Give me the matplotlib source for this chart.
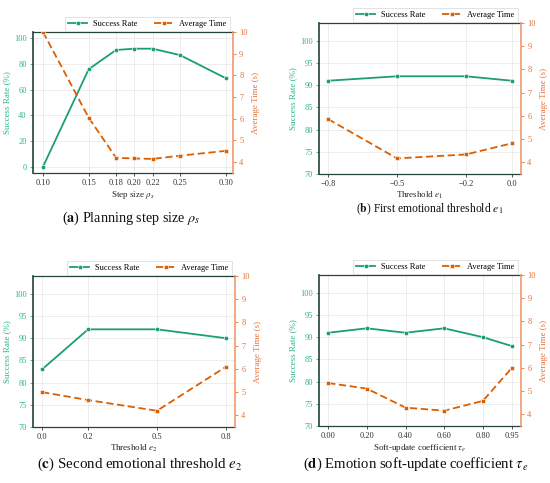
import matplotlib
matplotlib.use("Agg")
import matplotlib.pyplot as plt

plt.rcParams['font.family'] = ['Liberation Serif', 'DejaVu Serif']
plt.rcParams['mathtext.fontset'] = 'stix'

# ---- data ----
step_sizes = [0.10, 0.15, 0.18, 0.20, 0.22, 0.25, 0.30]
step_success = [0, 76, 91, 92, 92, 87, 69]
step_time = [10.0, 6.05, 4.2, 4.17, 4.15, 4.3, 4.52]
step_ticklabels = ["0.10", "0.15", "0.18", "0.20", "0.22", "0.25", "0.30"]

e1_vals = [-0.8, -0.5, -0.2, 0.0]
e1_success = [91, 92, 92, 91]
e1_time = [5.86, 4.17, 4.34, 4.82]
e1_ticklabels = ["\u22120.8", "\u22120.5", "\u22120.2", "0.0"]

e2_vals = [0.0, 0.2, 0.5, 0.8]
e2_success = [83, 92, 92, 90]
e2_time = [5.0, 4.66, 4.2, 6.09]
e2_ticklabels = ["0.0", "0.2", "0.5", "0.8"]

tau_vals = [0.00, 0.20, 0.40, 0.60, 0.80, 0.95]
tau_success = [91, 92, 91, 92, 90, 88]
tau_time = [5.35, 5.11, 4.29, 4.16, 4.58, 6.0]
tau_ticklabels = ["0.00", "0.20", "0.40", "0.60", "0.80", "0.95"]

GREEN = "#1b9e77"
GREEN_TXT = "#2bb58c"
ORANGE = "#d95f02"
ORANGE_TXT = "#e8703a"
ORANGE_SPINE = "#ee9a6e"
DARK = "#24433b"

fig = plt.figure(figsize=(5.5, 4.83), dpi=100)

panels = [
    dict(rect=[0.060, 0.6418, 0.3636, 0.2919], x=step_sizes, s=step_success, t=step_time,
         tl=step_ticklabels, xlabel=r"Step size $\rho_s$", ylim=(-5, 105),
         yticks=[0, 20, 40, 60, 80, 100], xlim=(0.089, 0.308),
         cap=r"($\mathbf{a}$) Planning step size $\rho_s$", capxy=(131, 218), capfs=10.2),
    dict(rect=[0.580, 0.6398, 0.3673, 0.3126], x=e1_vals, s=e1_success, t=e1_time,
         tl=e1_ticklabels, xlabel=r"Threshold $e_1$", ylim=(70, 104),
         yticks=[70, 75, 80, 85, 90, 95, 100], xlim=None,
         cap=r"($\mathbf{b}$) First emotional threshold $e_1$", capxy=(430, 209), capfs=8.4),
    dict(rect=[0.060, 0.1159, 0.3673, 0.3126], x=e2_vals, s=e2_success, t=e2_time,
         tl=e2_ticklabels, xlabel=r"Threshold $e_2$", ylim=(70, 104),
         yticks=[70, 75, 80, 85, 90, 95, 100], xlim=None,
         cap=r"($\mathbf{c}$) Second emotional threshold $e_2$", capxy=(140, 464), capfs=10.8),
    dict(rect=[0.580, 0.1180, 0.3673, 0.3126], x=tau_vals, s=tau_success, t=tau_time,
         tl=tau_ticklabels, xlabel=r"Soft-update coefficient $\tau_e$", ylim=(70, 104),
         yticks=[70, 75, 80, 85, 90, 95, 100], xlim=None,
         cap=r"($\mathbf{d}$) Emotion soft-update coefficient $\tau_e$", capxy=(416, 464), capfs=10.6),
]

W, H = 550, 483
for p in panels:
    ax = fig.add_axes(p["rect"])
    ax2 = ax.twinx()
    l1, = ax.plot(p["x"], p["s"], color=GREEN, lw=1.3, marker="o", ms=3.2,
                  mec="white", mew=0.4, label="Success Rate", zorder=3)
    l2, = ax2.plot(p["x"], p["t"], color=ORANGE, lw=1.3, ls=(0, (4, 2)), marker="s", ms=3.2,
                   mec="white", mew=0.4, label="Average Time", zorder=3)
    ax.set_ylim(*p["ylim"])
    ax.set_yticks(p["yticks"])
    ax2.set_ylim(3.5, 10)
    ax2.set_yticks([4, 5, 6, 7, 8, 9, 10])
    ax.set_xticks(p["x"])
    ax.set_xticklabels(p["tl"])
    if p["xlim"] is not None:
        ax.set_xlim(*p["xlim"])
    ax.grid(True, color="#e6e6e6", lw=0.5)
    ax.set_axisbelow(True)

    ax.tick_params(axis="y", colors=GREEN_TXT, labelsize=6, length=2.5, width=0.6, pad=2)
    ax.tick_params(axis="x", colors="#333333", labelsize=6, length=2.5, width=0.6, pad=2)
    ax2.tick_params(axis="y", colors=ORANGE_TXT, labelsize=6, length=2.5, width=0.6, pad=2)

    for side in ["left", "top", "bottom"]:
        ax2.spines[side].set_visible(False)
    ax.spines["right"].set_visible(False)
    ax.spines["left"].set_color(DARK)
    ax.spines["left"].set_linewidth(1.2)
    ax.spines["bottom"].set_color(DARK)
    ax.spines["bottom"].set_linewidth(0.9)
    ax.spines["top"].set_color(DARK)
    ax.spines["top"].set_linewidth(0.9)
    ax2.spines["right"].set_color(ORANGE_SPINE)
    ax2.spines["right"].set_linewidth(1.2)

    ax.set_ylabel("Success Rate (%)", color=GREEN_TXT, fontsize=6.5, labelpad=2)
    ax2.set_ylabel("Average Time (s)", color=ORANGE_TXT, fontsize=6.5, labelpad=3)
    ax.set_xlabel(p["xlabel"], fontsize=6.5, color="#222222", labelpad=1)

    leg = ax.legend([l1, l2], ["Success Rate", "Average Time"], loc="lower right",
                    bbox_to_anchor=(0.985, 1.005), ncol=2, fontsize=6, frameon=True,
                    fancybox=False, edgecolor="#cccccc", handlelength=2.2,
                    columnspacing=2.0, borderpad=0.4, handletextpad=0.8,
                    borderaxespad=0.0)
    leg.get_frame().set_linewidth(0.5)

    cx, cy = p["capxy"]
    fig.text(cx / W, 1 - cy / H, p["cap"], ha="center", va="center", fontsize=p["capfs"],
             color="#111111")

fig.savefig("out.png", dpi=100)
